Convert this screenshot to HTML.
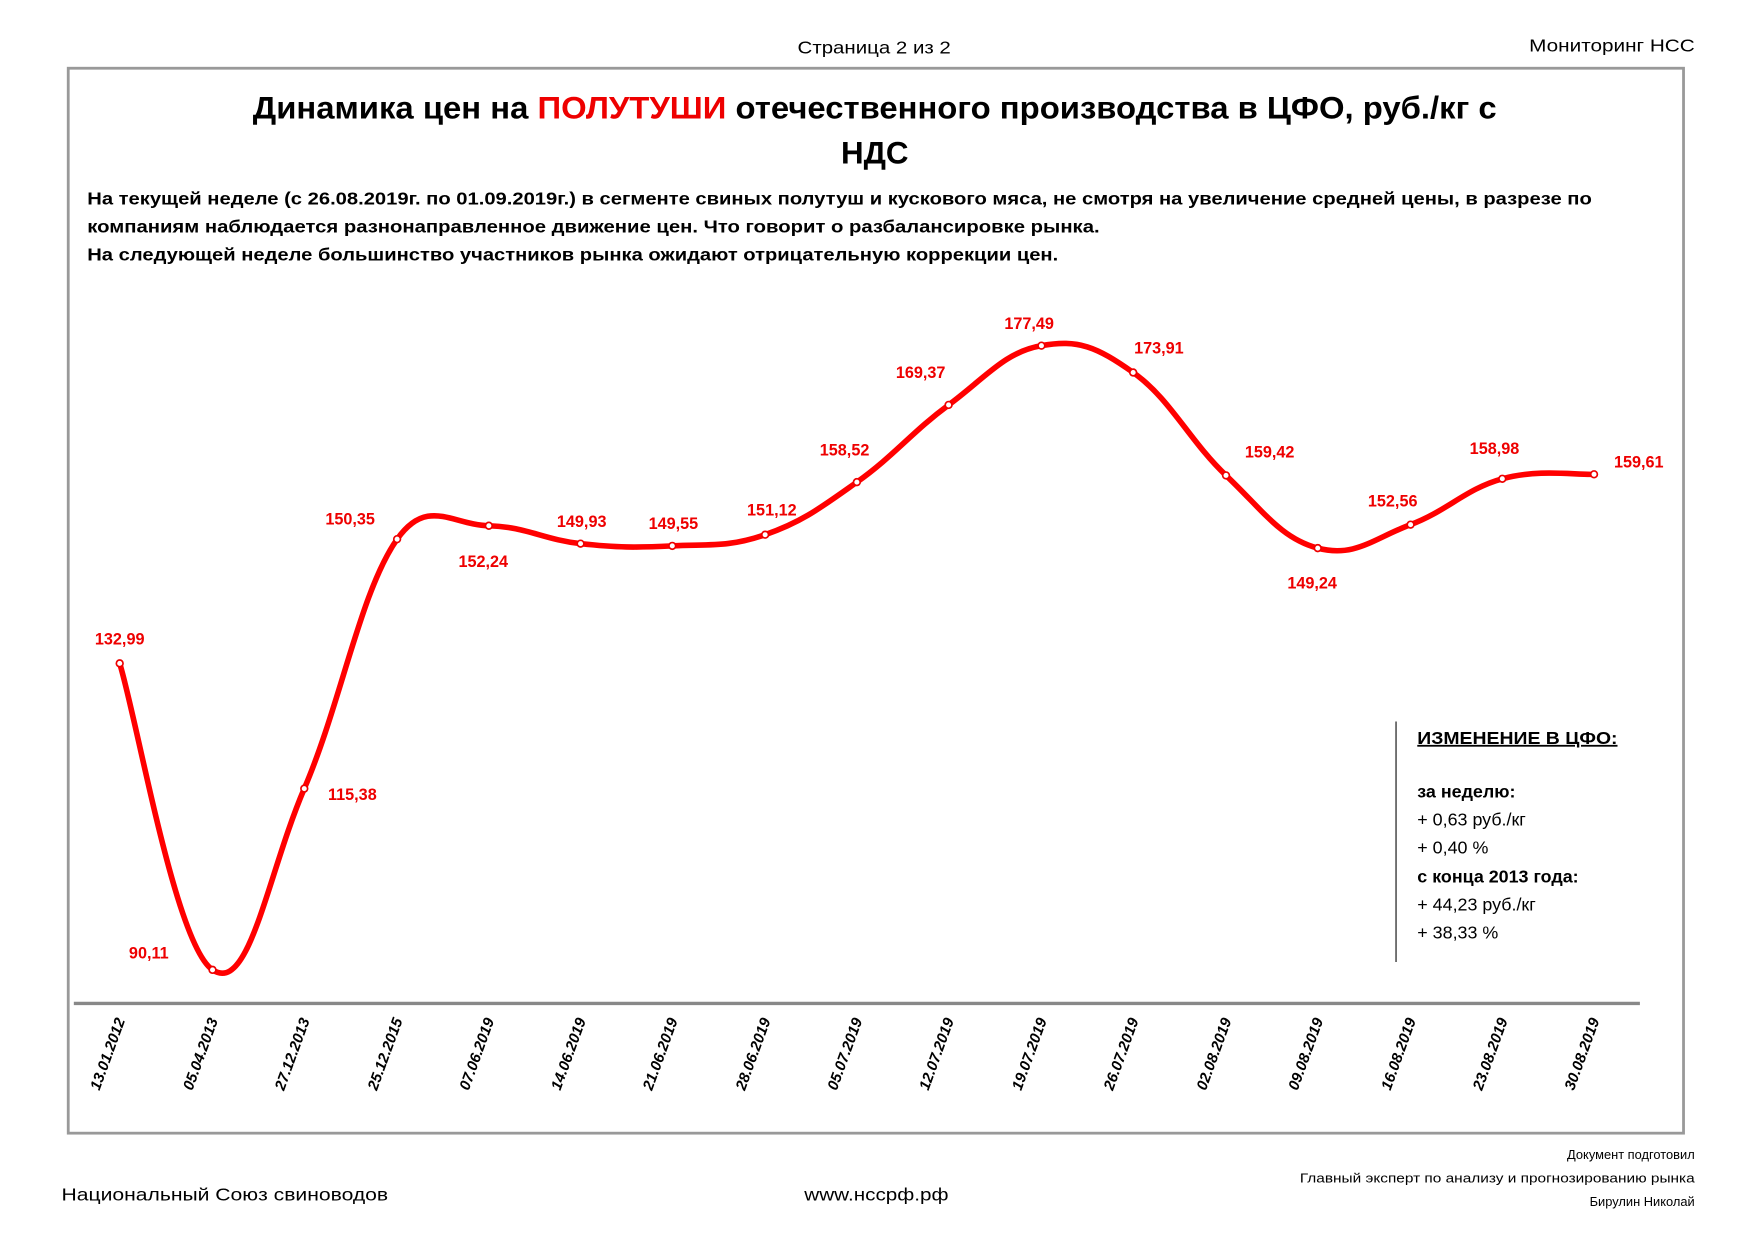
<!DOCTYPE html>
<html><head><meta charset="utf-8"><style>
html,body{margin:0;padding:0;background:#fff;}
svg{display:block;font-family:"Liberation Sans","DejaVu Sans",sans-serif;}
</style></head><body>
<svg width="1754" height="1240" viewBox="0 0 1568 1108.5" xmlns="http://www.w3.org/2000/svg">
<text x="713" y="48" font-size="16" textLength="137" lengthAdjust="spacingAndGlyphs">Страница 2 из 2</text>
<text x="1367" y="46" font-size="16" textLength="148" lengthAdjust="spacingAndGlyphs">Мониторинг НСС</text>
<rect x="61" y="61" width="1444" height="952" fill="none" stroke="#999" stroke-width="2.5"/>
<text x="226" y="106" font-size="28" font-weight="bold" textLength="1112" lengthAdjust="spacingAndGlyphs">Динамика цен на <tspan fill="#e00">ПОЛУТУШИ</tspan> отечественного производства в ЦФО, руб./кг с</text>
<text x="782" y="146" font-size="28" font-weight="bold" text-anchor="middle">НДС</text>
<g font-size="16" font-weight="bold">
<text x="78" y="183" textLength="1345" lengthAdjust="spacingAndGlyphs">На текущей неделе (с 26.08.2019г. по 01.09.2019г.) в сегменте свиных полутуш и кускового мяса, не смотря на увеличение средней цены, в разрезе по</text>
<text x="78" y="208" textLength="905" lengthAdjust="spacingAndGlyphs">компаниям наблюдается разнонаправленное движение цен. Что говорит о разбалансировке рынка.</text>
<text x="78" y="233" textLength="868" lengthAdjust="spacingAndGlyphs">На следующей неделе большинство участников рынка ожидают отрицательную коррекции цен.</text>
</g>
<line x1="66" y1="897" x2="1466" y2="897" stroke="#888" stroke-width="3"/>
<path fill="none" stroke="#f00" stroke-width="5" stroke-linecap="round" d="M107,593 C123.6,647.8 157,844.6 190,867 C223,889.4 239,782 272,705 C305,628 322,529 355,482 C382,444 404.2,469.2 437,470 C469.8,470.8 486.2,482.4 519,486 C551.8,489.6 568,489.6 601,488 C634,486.4 651,489.4 684,478 C717,466.6 733.2,454.2 766,431 C798.8,407.8 815,386.4 848,362 C881,337.6 898,314.8 931,309 C964,303.2 980,309.8 1013,333 C1046,356.2 1063,393.6 1096,425 C1129,456.4 1145,481.2 1178,490 C1211,498.8 1228,481.4 1261,469 C1294,456.6 1310.2,437 1343,428 C1375.8,419 1408.6,424.8 1425,424"/>
<g fill="#fff" stroke="#e00" stroke-width="1.5">
<circle cx="107" cy="593" r="3"/><circle cx="190" cy="867" r="3"/><circle cx="272" cy="705" r="3"/><circle cx="355" cy="482" r="3"/><circle cx="437" cy="470" r="3"/><circle cx="519" cy="486" r="3"/><circle cx="601" cy="488" r="3"/><circle cx="684" cy="478" r="3"/><circle cx="766" cy="431" r="3"/><circle cx="848" cy="362" r="3"/><circle cx="931" cy="309" r="3"/><circle cx="1013" cy="333" r="3"/><circle cx="1096" cy="425" r="3"/><circle cx="1178" cy="490" r="3"/><circle cx="1261" cy="469" r="3"/><circle cx="1343" cy="428" r="3"/><circle cx="1425" cy="424" r="3"/>
</g>
<g font-size="14.5" font-weight="bold" fill="#e00" text-anchor="middle">
<text x="107" y="576">132,99</text><text x="133" y="857">90,11</text><text x="315" y="715">115,38</text>
<text x="313" y="469">150,35</text><text x="432" y="507">152,24</text><text x="520" y="471">149,93</text>
<text x="602" y="473">149,55</text><text x="690" y="461">151,12</text><text x="755" y="407">158,52</text>
<text x="823" y="338">169,37</text><text x="920" y="294">177,49</text><text x="1036" y="316">173,91</text>
<text x="1135" y="409">159,42</text><text x="1173" y="526">149,24</text><text x="1245" y="453">152,56</text>
<text x="1336" y="406">158,98</text><text x="1465" y="418">159,61</text>
</g>
<g font-size="13.5" font-weight="bold" font-style="italic" text-anchor="end">
<text x="112" y="912" transform="rotate(-70 112 912)">13.01.2012</text>
<text x="195" y="912" transform="rotate(-70 195 912)">05.04.2013</text>
<text x="277" y="912" transform="rotate(-70 277 912)">27.12.2013</text>
<text x="360" y="912" transform="rotate(-70 360 912)">25.12.2015</text>
<text x="442" y="912" transform="rotate(-70 442 912)">07.06.2019</text>
<text x="524" y="912" transform="rotate(-70 524 912)">14.06.2019</text>
<text x="606" y="912" transform="rotate(-70 606 912)">21.06.2019</text>
<text x="689" y="912" transform="rotate(-70 689 912)">28.06.2019</text>
<text x="771" y="912" transform="rotate(-70 771 912)">05.07.2019</text>
<text x="853" y="912" transform="rotate(-70 853 912)">12.07.2019</text>
<text x="936" y="912" transform="rotate(-70 936 912)">19.07.2019</text>
<text x="1018" y="912" transform="rotate(-70 1018 912)">26.07.2019</text>
<text x="1101" y="912" transform="rotate(-70 1101 912)">02.08.2019</text>
<text x="1183" y="912" transform="rotate(-70 1183 912)">09.08.2019</text>
<text x="1266" y="912" transform="rotate(-70 1266 912)">16.08.2019</text>
<text x="1348" y="912" transform="rotate(-70 1348 912)">23.08.2019</text>
<text x="1430" y="912" transform="rotate(-70 1430 912)">30.08.2019</text>
</g>
<line x1="1248" y1="645" x2="1248" y2="860" stroke="#333" stroke-width="1.2"/>
<g font-size="16">
<text x="1267" y="665" font-weight="bold" text-decoration="underline" textLength="179" lengthAdjust="spacingAndGlyphs">ИЗМЕНЕНИЕ В ЦФО:</text>
<text x="1267" y="713" font-weight="bold">за неделю:</text>
<text x="1267" y="738">+ 0,63 руб./кг</text>
<text x="1267" y="763">+ 0,40 %</text>
<text x="1267" y="789" font-weight="bold">с конца 2013 года:</text>
<text x="1267" y="814">+ 44,23 руб./кг</text>
<text x="1267" y="839">+ 38,33 %</text>
</g>
<text x="55" y="1073" font-size="16" textLength="292" lengthAdjust="spacingAndGlyphs">Национальный Союз свиноводов</text>
<text x="719" y="1073" font-size="16" textLength="129" lengthAdjust="spacingAndGlyphs">www.нсcрф.рф</text>
<g font-size="11.5" text-anchor="end">
<text x="1515" y="1036">Документ подготовил</text>
<text x="1515" y="1057" textLength="353" lengthAdjust="spacingAndGlyphs">Главный эксперт по анализу и прогнозированию рынка</text>
<text x="1515" y="1078">Бирулин Николай</text>
</g>
</svg>
</body></html>
